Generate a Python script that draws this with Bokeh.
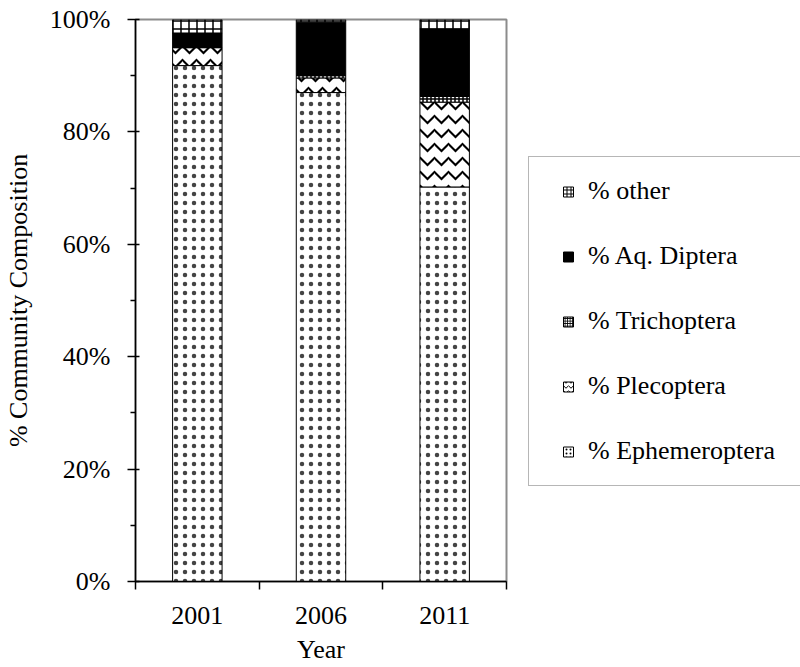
from bokeh.plotting import figure
from bokeh.layouts import row
from bokeh.models import (ColumnDataSource, FixedTicker, Legend, LegendItem,
                          Range1d, PrintfTickFormatter)
from bokeh.embed import file_html
from bokeh.resources import INLINE

years = ["2001", "2006", "2011"]
series_labels = ["% Ephemeroptera", "% Plecoptera", "% Trichoptera", "% Aq. Diptera", "% other"]
ephemeroptera = [91.8, 87.0, 70.2]
plecoptera = [3.2, 2.6, 15.1]
trichoptera = [0.0, 0.4, 1.0]
aq_diptera = [2.6, 9.5, 12.0]
other = [2.4, 0.5, 1.7]
y_ticks = [0, 20, 40, 60, 80, 100]
y_minor = [10, 30, 50, 70, 90]

FONT = "Liberation Serif"
FS = "26px"

xpos = [i + 1 for i in range(len(years))]
keys = ["eph", "plec", "tric", "dipt", "oth"]
source = ColumnDataSource(dict(x=xpos, eph=ephemeroptera, plec=plecoptera,
                               tric=trichoptera, dipt=aq_diptera, oth=other))

p = figure(width=508, height=667, output_backend="svg", toolbar_location=None,
           x_range=Range1d(0.5, len(years) + 0.5), y_range=Range1d(0, 100),
           min_border_left=133, min_border_right=2, min_border_top=19,
           min_border_bottom=86)
p.xgrid.visible = False
p.ygrid.visible = False
p.outline_line_color = "#8c8c8c"
p.outline_line_width = 2
p.background_fill_color = "white"
p.border_fill_color = "white"

fills = ["white", "white", "white", "black", "white"]
hatches = ["dot", "horizontal_wave", "cross", None, "cross"]

renderers = p.vbar_stack(
    keys, x="x", width=0.4, source=source,
    fill_color=fills,
    line_color="black", line_width=1,
    hatch_pattern=hatches,
    hatch_color=["#444444", "black", "black", "black", "black"],
    hatch_scale=[9, 14, 4, 1, 8],
    hatch_weight=[0.5, 2.0, 1.5, 1, 1.5],
)

# axes
xa = p.xaxis[0]
xa.ticker = FixedTicker(ticks=xpos, minor_ticks=[x - 0.5 for x in xpos] + [xpos[-1] + 0.5])
xa.major_label_overrides = {x: y for x, y in zip(xpos, years)}
xa.major_tick_out = 0
xa.major_tick_in = 0
xa.minor_tick_out = 8
xa.minor_tick_in = 0
xa.minor_tick_line_color = "black"
xa.minor_tick_line_width = 1.5
xa.axis_line_color = "black"
xa.axis_line_width = 1.5
xa.major_label_standoff = 17
xa.major_label_text_font = FONT
xa.major_label_text_font_size = FS
xa.major_label_text_color = "black"
xa.axis_label = "Year"
xa.axis_label_text_font = FONT
xa.axis_label_text_font_size = FS
xa.axis_label_text_font_style = "normal"
xa.axis_label_text_color = "black"
xa.axis_label_standoff = 8

ya = p.yaxis[0]
ya.ticker = FixedTicker(ticks=y_ticks, minor_ticks=y_minor)
ya.formatter = PrintfTickFormatter(format="%d%%")
ya.major_tick_out = 8
ya.major_tick_in = 4
ya.minor_tick_out = 5
ya.minor_tick_in = 0
ya.major_tick_line_color = "black"
ya.minor_tick_line_color = "black"
ya.major_tick_line_width = 1.5
ya.minor_tick_line_width = 1.5
ya.axis_line_color = "black"
ya.axis_line_width = 1.5
ya.major_label_standoff = 17
ya.major_label_text_font = FONT
ya.major_label_text_font_size = FS
ya.major_label_text_color = "black"
ya.axis_label = "% Community Composition"
ya.axis_label_text_font = FONT
ya.axis_label_text_font_size = FS
ya.axis_label_text_font_style = "normal"
ya.axis_label_text_color = "black"
ya.axis_label_standoff = 14

# legend panel: separate figure with swatch renderers that have no visible points
lg = figure(width=292, height=667, output_backend="svg", toolbar_location=None,
            x_range=Range1d(0, 1), y_range=Range1d(0, 1),
            x_axis_location=None, y_axis_location=None, min_border=0)
lg.xgrid.visible = False
lg.ygrid.visible = False
lg.outline_line_color = None
lg.background_fill_color = "white"
lg.border_fill_color = "white"

nan = float("nan")
swatches = []
for f, h, s in zip(fills, hatches, [4, 5, 2.5, 1, 4]):
    src = ColumnDataSource(dict(x=[nan], y=[nan]))
    swatches.append(lg.scatter("x", "y", source=src, marker="square", size=10,
                               fill_color=f, line_color="black", line_width=1,
                               hatch_pattern=h, hatch_color="black",
                               hatch_scale=s, hatch_weight=1))

items = [LegendItem(label=lab, renderers=[r]) for lab, r in zip(series_labels, swatches)]
items = items[::-1]
legend = Legend(items=items, location=(20, 95), margin=0,
                glyph_width=40, glyph_height=25, label_height=30, label_width=210,
                label_standoff=0, spacing=35, padding=19,
                label_text_font=FONT, label_text_font_size=FS,
                label_text_color="black",
                border_line_color="#6e6e6e", border_line_width=1.5,
                background_fill_color="white", background_fill_alpha=1.0)
lg.add_layout(legend, "center")

layout = row(p, lg, spacing=0)
open("out.html", "w").write(file_html(layout, INLINE))
